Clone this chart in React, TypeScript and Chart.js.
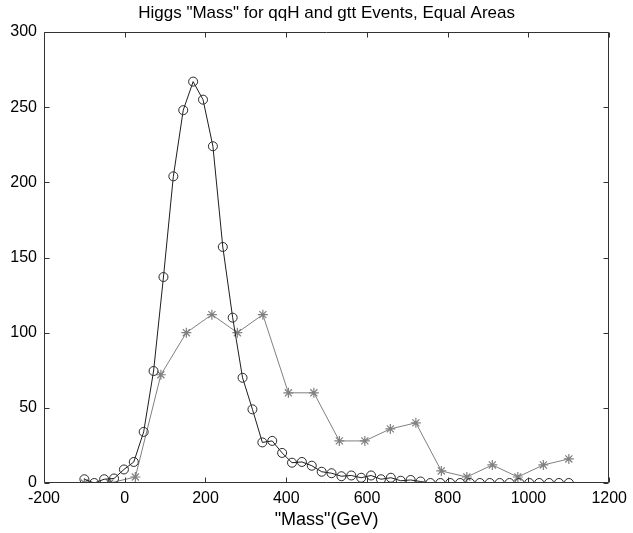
import React, { useEffect, useRef } from "react";
import { Chart, registerables } from "chart.js";

Chart.register(...registerables);

// qqH events (circles), equal-area normalised
const qqhMass = [
  -100, -75.5, -51.0, -26.5, -2.0, 22.4, 46.9, 71.4, 95.9, 120.4,
  144.9, 169.4, 193.9, 218.4, 242.9, 267.3, 291.8, 316.3, 340.8, 365.3,
  389.8, 414.3, 438.8, 463.3, 487.8, 512.2, 536.7, 561.2, 585.7, 610.2,
  634.7, 659.2, 683.7, 708.2, 732.7, 757.1, 781.6, 806.1, 830.6, 855.1,
  879.6, 904.1, 928.6, 953.1, 977.6, 1002.0, 1026.5, 1051.0, 1075.5, 1100,
];
const qqhCounts = [
  2.5, 0, 2.5, 3, 9, 14, 34, 74.5, 137, 204,
  248, 267, 255, 224, 157, 110, 70, 49, 27, 28,
  20, 13.5, 14, 11.5, 7.5, 6.5, 4.5, 5, 3.5, 5,
  2.5, 3.5, 1.5, 2, 1, 0, 0, 0, 0, 0,
  0, 0, 0, 0, 0, 0, 0, 0, 0, 0,
];

// gtt events (asterisks)
const gttMass = [
  -100, -36.8, 26.3, 89.5, 152.6, 215.8, 278.9, 342.1, 405.3, 468.4,
  531.6, 594.7, 657.9, 721.1, 784.2, 847.4, 910.5, 973.7, 1036.8, 1100,
];
const gttCounts = [
  0, 0, 4, 72, 100, 112, 100, 112, 60, 60,
  28, 28, 36, 40, 8, 4, 12, 4, 12, 16,
];

const xTicks = [-200, 0, 200, 400, 600, 800, 1000, 1200];
const yTicks = [0, 50, 100, 150, 200, 250, 300];

const titleText = 'Higgs "Mass" for qqH and gtt Events, Equal Areas';
const xLabelText = '"Mass"(GeV)';

const FONT = '"Liberation Sans", Arial, Helvetica, sans-serif';

const framePlugin = {
  id: "frame",
  beforeDraw(chart: any) {
    const { ctx, width, height } = chart;
    ctx.save();
    ctx.fillStyle = "#ffffff";
    ctx.fillRect(0, 0, width, height);
    ctx.restore();
  },
  afterDraw(chart: any) {
    const { ctx, chartArea: a, scales } = chart;
    const L = Math.round(a.left) + 0.5;
    const R = Math.round(a.right) - 0.5;
    const T = Math.round(a.top) + 0.5;
    const B = Math.round(a.bottom) - 0.5;
    ctx.save();
    ctx.strokeStyle = "#333333";
    ctx.lineWidth = 1;
    ctx.beginPath();
    ctx.rect(L, T, R - L, B - T);
    const len = 5;
    xTicks.forEach((v) => {
      const p = Math.round(scales.x.getPixelForValue(v)) + 0.5;
      ctx.moveTo(p, B);
      ctx.lineTo(p, B - len);
      ctx.moveTo(p, T);
      ctx.lineTo(p, T + len);
    });
    yTicks.forEach((v) => {
      const p = Math.round(scales.y.getPixelForValue(v)) + 0.5;
      ctx.moveTo(L, p);
      ctx.lineTo(L + len, p);
      ctx.moveTo(R, p);
      ctx.lineTo(R - len, p);
    });
    ctx.stroke();

    ctx.fillStyle = "#000000";
    ctx.textAlign = "center";
    ctx.textBaseline = "middle";
    ctx.font = `17px ${FONT}`;
    ctx.fillText(titleText, (a.left + a.right) / 2, 13);
    ctx.font = `18px ${FONT}`;
    ctx.fillText(xLabelText, (a.left + a.right) / 2, 520);
    ctx.restore();
  },
};

export default function App() {
  const ref = useRef<HTMLCanvasElement | null>(null);

  useEffect(() => {
    if (!ref.current) return;
    const chart = new Chart(ref.current, {
      type: "scatter",
      data: {
        datasets: [
          {
            label: "gtt",
            data: gttMass.map((x, i) => ({ x, y: gttCounts[i] })),
            showLine: true,
            borderColor: "#808080",
            borderWidth: 1,
            pointStyle: "star",
            pointRadius: 5,
            pointBorderColor: "#808080",
            pointBorderWidth: 1.2,
            pointBackgroundColor: "rgba(0,0,0,0)",
            order: 2,
          },
          {
            label: "qqH",
            data: qqhMass.map((x, i) => ({ x, y: qqhCounts[i] })),
            showLine: true,
            borderColor: "#1e1e1e",
            borderWidth: 1,
            pointStyle: "circle",
            pointRadius: 4.5,
            pointBorderColor: "#2a2a2a",
            pointBorderWidth: 1,
            pointBackgroundColor: "rgba(0,0,0,0)",
            order: 1,
          },
        ],
      },
      options: {
        responsive: false,
        animation: false,
        devicePixelRatio: 1,
        layout: { padding: { left: 0, right: 18, top: 32, bottom: 0 } },
        plugins: {
          legend: { display: false },
          tooltip: { enabled: false },
          title: { display: false },
        },
        scales: {
          x: {
            type: "linear",
            min: -200,
            max: 1200,
            afterBuildTicks: (s: any) => {
              s.ticks = xTicks.map((value) => ({ value }));
            },
            afterFit: (s: any) => {
              s.height = 50;
            },
            grid: { display: false, drawTicks: false },
            border: { display: false },
            ticks: {
              color: "#000000",
              font: { family: FONT, size: 16 },
              padding: 6,
              maxRotation: 0,
              autoSkip: false,
              callback: (v: any) => String(v),
            },
          },
          y: {
            type: "linear",
            min: 0,
            max: 300,
            afterBuildTicks: (s: any) => {
              s.ticks = yTicks.map((value) => ({ value }));
            },
            afterFit: (s: any) => {
              s.width = 44;
            },
            grid: { display: false, drawTicks: false },
            border: { display: false },
            ticks: {
              color: "#000000",
              font: { family: FONT, size: 16 },
              padding: 7,
              autoSkip: false,
              callback: (v: any) => String(v),
            },
          },
        },
      },
      plugins: [framePlugin],
    });
    return () => chart.destroy();
  }, []);

  return (
    <div style={{ position: "absolute", left: 0, top: 0, width: 633, height: 533, background: "#fff" }}>
      <canvas ref={ref} width={633} height={533} />
    </div>
  );
}
